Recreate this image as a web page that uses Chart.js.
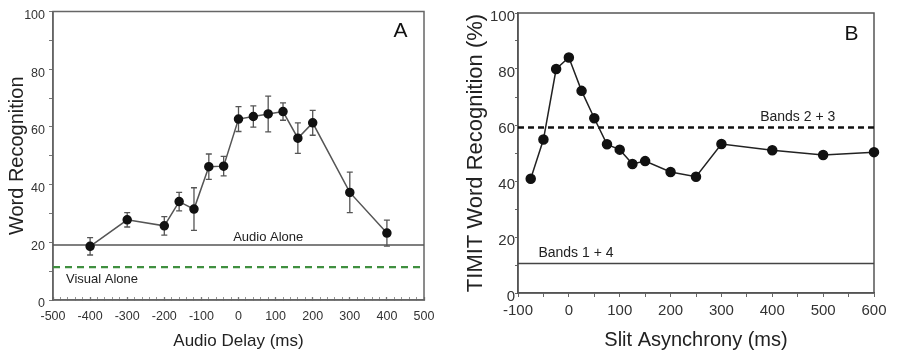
<!DOCTYPE html>
<html><head><meta charset="utf-8">
<script src="https://cdn.jsdelivr.net/npm/chart.js@4.4.1/dist/chart.umd.min.js"></script>
<style>
html,body{margin:0;padding:0;background:#fff;overflow:hidden}
#wrap{position:relative;width:897px;height:352px;background:#fff}
canvas{position:absolute;top:0}
#cA{left:0}
#cB{left:450px}
</style></head><body>
<div id="wrap"><canvas id="cA" width="450" height="352"></canvas><canvas id="cB" width="447" height="352"></canvas></div>
<script>
// ---------- Panel A data ----------
const audioDelayMs      = [-400, -300, -200, -160, -120, -80, -40, 0, 40, 80, 120, 160, 200, 300, 400];
const wordRecognitionA  = [18.6, 27.8, 25.7, 34.1, 31.5, 46.2, 46.4, 62.7, 63.6, 64.5, 65.3, 56.1, 61.4, 37.3, 23.2];
const errorA            = [3.0, 2.5, 3.2, 3.2, 7.4, 4.4, 3.4, 4.3, 3.7, 6.2, 3.0, 5.3, 4.3, 7.0, 4.5];
const audioAloneLevel   = [19.1];
const visualAloneLevel  = [11.4];
const xRangeA           = [-500, 500];
const yRangeA           = [0, 100];

// ---------- Panel B data ----------
const slitAsynchronyMs  = [-75, -50, -25, 0, 25, 50, 75, 100, 125, 150, 200, 250, 300, 400, 500, 600];
const timitRecognitionB = [40.8, 54.8, 80.0, 84.1, 72.2, 62.4, 53.1, 51.2, 46.1, 47.1, 43.2, 41.5, 53.2, 51.0, 49.3, 50.3];
const bands23Level      = [59.1];
const bands14Level      = [10.5];
const xRangeB           = [-100, 600];
const yRangeB           = [0, 100];

const REG = '"Liberation Sans", Arial, sans-serif';
Chart.defaults.font.family = REG;
Chart.defaults.color = '#333';

function framePlugin(color, width) {
  return { id: 'frame', beforeDatasetsDraw(chart) {
    const a = chart.chartArea, c = chart.ctx;
    c.save(); c.strokeStyle = color; c.lineWidth = width;
    c.strokeRect(a.left, a.top, a.right - a.left, a.bottom - a.top);
    c.restore();
  }};
}
function errorBarPlugin(xs, ys, errs, color) {
  return { id: 'errbars', beforeDatasetsDraw(chart) {
    const sx = chart.scales.x, sy = chart.scales.y, c = chart.ctx;
    c.save(); c.strokeStyle = color; c.lineWidth = 1.3;
    xs.forEach((xv, i) => {
      const px = sx.getPixelForValue(xv);
      const top = sy.getPixelForValue(ys[i] + errs[i]);
      const bot = sy.getPixelForValue(ys[i] - errs[i]);
      c.beginPath();
      c.moveTo(px, top); c.lineTo(px, bot);
      c.moveTo(px - 3, top); c.lineTo(px + 3, top);
      c.moveTo(px - 3, bot); c.lineTo(px + 3, bot);
      c.stroke();
    });
    c.restore();
  }};
}
function notesPlugin(notes) {
  return { id: 'notes', afterDatasetsDraw(chart) {
    const sx = chart.scales.x, sy = chart.scales.y, c = chart.ctx;
    c.save();
    notes.forEach(n => {
      c.font = n.font; c.fillStyle = n.color || '#222';
      c.textAlign = n.align || 'center'; c.textBaseline = n.baseline || 'middle';
      c.fillText(n.text, sx.getPixelForValue(n.x) + (n.dx || 0), sy.getPixelForValue(n.y) + (n.dy || 0));
    });
    c.restore();
  }};
}
const pts = (xs, ys) => xs.map((x, i) => ({ x: x, y: ys[i] }));
const hline = (range, v) => [{ x: range[0], y: v }, { x: range[1], y: v }];

// ---------- Chart A ----------
new Chart(document.getElementById('cA'), {
  type: 'scatter',
  data: { datasets: [
    { data: pts(audioDelayMs, wordRecognitionA), showLine: true, borderColor: '#555', borderWidth: 1.5,
      pointRadius: 4, pointBackgroundColor: '#111', pointBorderColor: '#111', tension: 0, clip: false },
    { data: hline(xRangeA, audioAloneLevel[0]), showLine: true, borderColor: '#555', borderWidth: 1.5, pointRadius: 0 },
    { data: hline(xRangeA, visualAloneLevel[0]), showLine: true, borderColor: '#3f8f3f', borderWidth: 2.2,
      borderDash: [7, 5], pointRadius: 0 }
  ]},
  options: {
    responsive: false, animation: false,
    layout: { padding: { top: 11, right: 26, left: 0, bottom: 0 } },
    plugins: { legend: { display: false }, tooltip: { enabled: false } },
    scales: {
      x: { type: 'linear', min: xRangeA[0], max: xRangeA[1],
        afterFit: s => { s.height = 52; },
        ticks: { stepSize: 20, autoSkip: false, maxRotation: 0, padding: 12, color: '#333',
          font: { family: REG, size: 12.5 }, callback: v => (v % 100 === 0 ? v : '') },
        grid: { drawOnChartArea: false, drawTicks: true, tickLength: -3, tickColor: '#777',
          tickWidth: c => (c.tick && c.tick.value % 100 === 0 ? 1.3 : 0.8) },
        border: { display: true, color: '#666', width: 1.5 },
        title: { display: true, text: 'Audio Delay (ms)', color: '#222', padding: 0,
          font: { family: REG, size: 17 } } },
      y: { type: 'linear', min: yRangeA[0], max: yRangeA[1],
        afterFit: s => { s.width = 53; },
        ticks: { stepSize: 10, autoSkip: false, padding: 4, labelOffset: 4, color: '#333',
          font: { family: REG, size: 12.5 }, callback: v => (v % 20 === 0 ? v : '') },
        grid: { drawOnChartArea: false, drawTicks: true, tickLength: 4, tickColor: '#777' },
        border: { display: true, color: '#666', width: 1.5 },
        title: { display: true, text: 'Word Recognition', color: '#222', padding: { top: 5, bottom: 0 },
          font: { family: REG, size: 20 } } }
    }
  },
  plugins: [
    framePlugin('#666', 1.5),
    errorBarPlugin(audioDelayMs, wordRecognitionA, errorA, '#555'),
    notesPlugin([
      { text: 'A', x: 437, y: 93, font: '21px ' + REG, color: '#111' },
      { text: 'Audio Alone', x: 80, y: audioAloneLevel[0], baseline: 'bottom', dy: -1, font: '13px ' + REG },
      { text: 'Visual Alone', x: -465, y: 7, align: 'left', font: '13px ' + REG }
    ])
  ]
});

// ---------- Chart B ----------
new Chart(document.getElementById('cB'), {
  type: 'scatter',
  data: { datasets: [
    { data: pts(slitAsynchronyMs, timitRecognitionB), showLine: true, borderColor: '#222', borderWidth: 1.5,
      pointRadius: 4.5, pointBackgroundColor: '#111', pointBorderColor: '#111', tension: 0, clip: false },
    { data: hline(xRangeB, bands23Level[0]), showLine: true, borderColor: '#111', borderWidth: 2.5,
      borderDash: [6, 4], pointRadius: 0 },
    { data: hline(xRangeB, bands14Level[0]), showLine: true, borderColor: '#444', borderWidth: 1.5, pointRadius: 0 }
  ]},
  options: {
    responsive: false, animation: false,
    layout: { padding: { top: 13, right: 23, left: 0, bottom: 0 } },
    plugins: { legend: { display: false }, tooltip: { enabled: false } },
    scales: {
      x: { type: 'linear', min: xRangeB[0], max: xRangeB[1],
        afterFit: s => { s.height = 59; },
        ticks: { stepSize: 50, autoSkip: false, maxRotation: 0, padding: 5, color: '#333',
          font: { family: REG, size: 15 }, callback: v => (v % 100 === 0 ? v : '') },
        grid: { drawOnChartArea: false, drawTicks: true, tickLength: 4, tickColor: '#666' },
        border: { display: true, color: '#555', width: 1.5 },
        title: { display: true, text: 'Slit Asynchrony (ms)', color: '#222', padding: 0,
          font: { family: REG, size: 20 } } },
      y: { type: 'linear', min: yRangeB[0], max: yRangeB[1],
        afterFit: s => { s.width = 68; },
        ticks: { stepSize: 10, autoSkip: false, padding: 0, labelOffset: 4, color: '#333',
          font: { family: REG, size: 15 }, callback: v => (v % 20 === 0 ? v : '') },
        grid: { drawOnChartArea: false, drawTicks: true, tickLength: 3, tickColor: '#666' },
        border: { display: true, color: '#555', width: 1.5 },
        title: { display: true, text: 'TIMIT Word Recognition (%)', color: '#222', padding: { top: 13, bottom: 0 },
          font: { family: REG, size: 22 } } }
    }
  },
  plugins: [
    framePlugin('#555', 1.5),
    notesPlugin([
      { text: 'B', x: 556, y: 92.6, font: '21px ' + REG, color: '#111' },
      { text: 'Bands 2 + 3', x: 450, y: bands23Level[0], baseline: 'bottom', dy: -3, font: '14px ' + REG },
      { text: 'Bands 1 + 4', x: 14, y: bands14Level[0], baseline: 'bottom', dy: -3, font: '14px ' + REG }
    ])
  ]
});
</script>
</body></html>
